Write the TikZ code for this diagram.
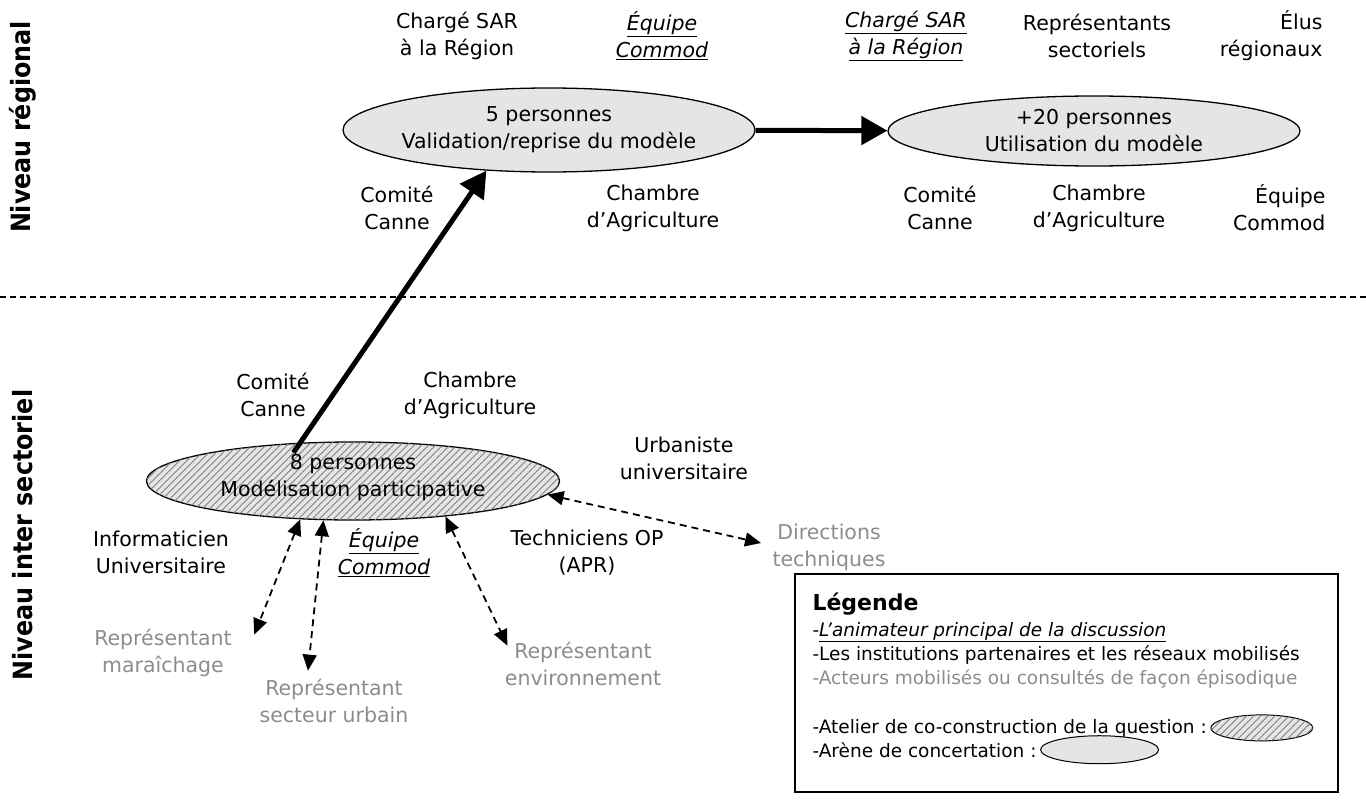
\documentclass[tikz,border=0pt]{standalone}
\usepackage{fontspec}
\setmainfont{DejaVu Sans}
\newfontfamily\condfont{DejaVu Sans Condensed}
\usetikzlibrary{shapes.geometric,arrows.meta,patterns.meta,positioning}

\definecolor{arenefill}{gray}{0.9}
\definecolor{episodic}{gray}{0.55}

\tikzset{
	lbl/.style={align=center, font=\fontsize{20.5}{27}\selectfont},
	lblgray/.style={lbl, text=episodic},
	leg/.style={anchor=base west, font=\fontsize{18.5}{22}\selectfont},
	niveau/.style={rotate=90, font=\condfont\bfseries\fontsize{26.5}{30}\selectfont},
	arene/.style={ellipse, draw, line width=1.3pt, fill=arenefill, inner sep=0pt},
	atelier/.style={arene, postaction={pattern color=gray, pattern={Lines[angle=45,distance=5pt,line width=0.9pt]}}},
	bigarrow/.style={line width=5pt, -{Triangle[length=26pt,width=28pt]}},
	dasharrow/.style={line width=1.8pt, dash pattern=on 7pt off 5pt,
		{Triangle[length=16pt,width=14pt]}-{Triangle[length=16pt,width=14pt]}},
}
\newcommand{\anim}[1]{\underline{\textit{#1}}}

\begin{document}
\begin{tikzpicture}[x=1pt,y=-1pt]
	\useasboundingbox (0,0) rectangle (1366,803);
	
	% levels
	\node[niveau] (regional) at (23,127) {Niveau régional};
	\node[niveau] (intersect) at (23,535) {Niveau inter sectoriel};
	\draw[line width=1.2pt, dash pattern=on 6pt off 4pt] (0,297) -- (1366,297);
	
	% regional arenas
	\node[arene, minimum width=412pt, minimum height=84pt] (valid) at (549,130) {};
	\node[lbl] (validtxt) at (valid) {5 personnes\\Validation/reprise du modèle};
	\node[arene, minimum width=412pt, minimum height=70pt] (usage) at (1094,131) {};
	\node[lbl] (usagetxt) at (usage) {+20 personnes\\Utilisation du modèle};
	\draw[bigarrow] (valid) -- (usage);
	
	% actors, regional level
	\node[lbl] (charge1) at (457,36) {Chargé SAR\\à la Région};
	\node[lbl] (equipe1) at (662,36) {\anim{Équipe}\\\anim{Commod}};
	\node[lbl] (charge2) at (906,36) {\anim{Chargé SAR}\\\anim{à la Région}};
	\node[lbl] (repres) at (1097,36) {Représentants\\sectoriels};
	\node[lbl, anchor=east, align=right] (elus) at (1326,36) {Élus\\régionaux};
	\node[lbl] (comite1) at (397,208) {Comité\\Canne};
	\node[lbl] (chambre1) at (653,208) {Chambre\\d’Agriculture};
	\node[lbl] (comite2) at (940,208) {Comité\\Canne};
	\node[lbl] (chambre2) at (1099,208) {Chambre\\d’Agriculture};
	\node[lbl, anchor=east, align=right] (equipe2) at (1329,208) {Équipe\\Commod};
	
	% inter sectoral workshop
	\node[atelier, minimum width=413pt, minimum height=78pt] (model) at (353,481) {};
	\node[lbl] (modeltxt) at ([yshift=3pt]model.center) {8 personnes\\Modélisation participative};
	\draw[bigarrow, shorten <=-12pt] (model.144) -- (valid.213);
	
	\node[lbl] (comite3) at (273,395) {Comité\\Canne};
	\node[lbl] (chambre3) at (470,395) {Chambre\\d’Agriculture};
	\node[lbl] (urbaniste) at (684,458) {Urbaniste\\universitaire};
	\node[lbl] (info) at (161,552) {Informaticien\\Universitaire};
	\node[lbl] (equipe3) at (384,553) {\anim{Équipe}\\\anim{Commod}};
	\node[lbl] (techn) at (587,553) {Techniciens OP\\(APR)};
	
	% actors consulted now and then
	\node[lblgray] (direct) at (829,547) {Directions\\techniques};
	\node[lblgray] (mara) at (163,653) {Représentant\\maraîchage};
	\node[lblgray] (urbain) at (334,701) {Représentant\\secteur urbain};
	\node[lblgray] (envir) at (583,664) {Représentant\\environnement};
	
	\draw[dasharrow] (model.216) -- ([xshift=19pt,yshift=-9pt]mara.north east);
	\draw[dasharrow] (model.233) -- ([xshift=-26pt,yshift=5pt]urbain.north);
	\draw[dasharrow] (model.339) -- ([xshift=6pt,yshift=-7pt]envir.north west);
	\draw[dasharrow] (model.356) -- ([xshift=-8pt,yshift=4pt]direct.west);
	
	% legend
	\draw[line width=1.3pt] (795,574) rectangle (1338,792);
	\node[anchor=base west, font=\bfseries\fontsize{22}{26}\selectfont] (legtitle) at (809,610) {Légende};
	\node[leg] (leg1) at (809,636) {-\anim{L’animateur principal de la discussion}};
	\node[leg] (leg2) at (809,660) {-Les institutions partenaires et les réseaux mobilisés};
	\node[leg, text=episodic] (leg3) at (809,684) {-Acteurs mobilisés ou consultés de façon épisodique};
	\node[leg] (leg4) at (809,733) {-Atelier de co-construction de la question :};
	\node[leg] (leg5) at (809,757) {-Arène de concertation :};
	\node[atelier, line width=1pt, minimum width=102pt, minimum height=26pt, right=0pt of leg4] (legatelier) {};
	\node[arene, line width=1pt, minimum width=118pt, minimum height=28pt, right=0pt of leg5] (legarene) {};
\end{tikzpicture}
\end{document}
